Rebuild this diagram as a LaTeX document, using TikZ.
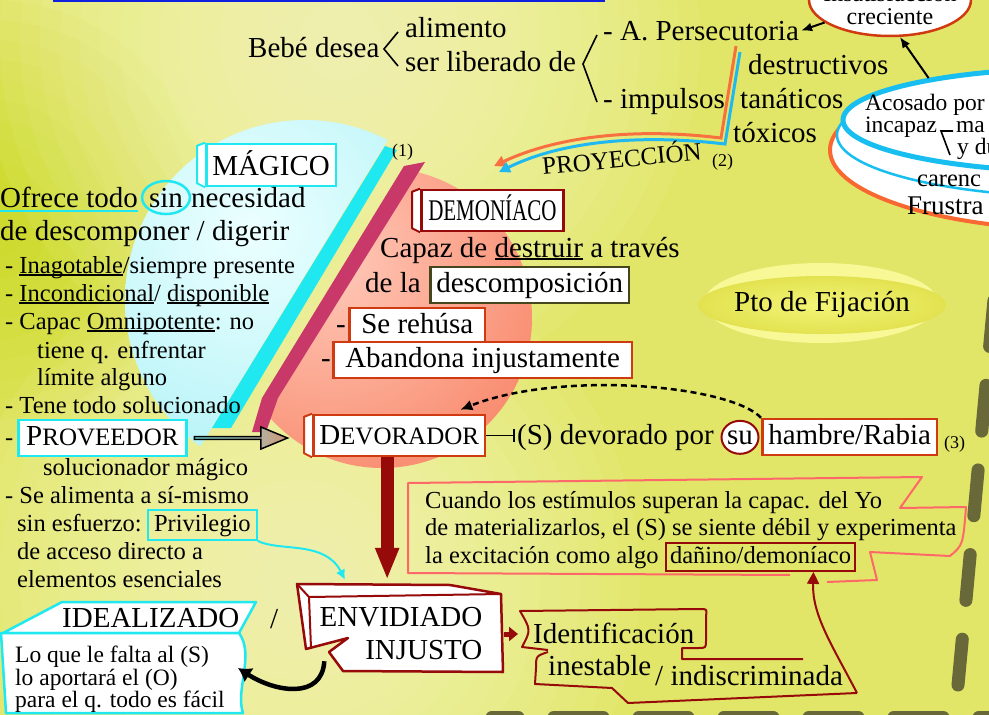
\documentclass[tikz,border=0pt]{standalone}
\usepackage{fontspec}
\setmainfont{Liberation Serif}
\usetikzlibrary{arrows.meta,positioning,shapes.geometric,shapes.arrows}

\definecolor{bgbase}{RGB}{226,230,104}
\definecolor{cream}{RGB}{252,252,208}
\definecolor{lime}{RGB}{198,216,16}
\definecolor{cyanln}{RGB}{32,232,240}
\definecolor{cyanin}{RGB}{236,255,255}
\definecolor{cyanout}{RGB}{184,244,248}
\definecolor{salin}{RGB}{255,202,186}
\definecolor{salout}{RGB}{248,132,102}
\definecolor{crimson}{RGB}{200,56,104}
\definecolor{boxred}{RGB}{208,58,16}
\definecolor{dred}{RGB}{150,10,10}
\definecolor{pinkln}{RGB}{255,104,104}
\definecolor{olive}{RGB}{70,70,30}
\definecolor{ellblue}{RGB}{24,190,240}
\definecolor{ellorange}{RGB}{248,104,48}
\definecolor{projor}{RGB}{248,112,64}
\definecolor{projbl}{RGB}{32,184,240}
\definecolor{ptoring}{RGB}{248,248,150}
\definecolor{ptoin}{RGB}{244,244,120}
\definecolor{ptoout}{RGB}{226,226,80}
\definecolor{dashcol}{RGB}{104,104,56}
\definecolor{topblue}{RGB}{16,32,224}
\definecolor{arrtan}{RGB}{208,150,120}

\newcommand\fsz[2]{\fontsize{#1}{#2}\selectfont}
\newcommand\undl[1]{\mbox{\setbox0\hbox{#1}\rlap{\rule[-2.5pt]{\wd0}{1.1pt}}\box0}}

\begin{document}
\begin{tikzpicture}[x=1pt, y=-1pt,
  txt/.style={inner sep=0pt, anchor=base west, font=\fsz{29}{33}},
  lst/.style={inner sep=0pt, anchor=base west, font=\fsz{24.5}{28}},
  tight/.style={inner sep=0pt, anchor=base west, font=\fsz{23.5}{23}},
  sml/.style={inner sep=0pt, anchor=base west, font=\fsz{18}{18}},
  box/.style={line width=2.5pt, fill=white, anchor=base west, inner xsep=6pt, inner ysep=4pt,
    text height=21pt, text depth=7pt, font=\fsz{29}{33}},
  cbox/.style={box, draw=cyanln},
  obox/.style={box, draw=boxred},
  dbox/.style={box, draw=dred},
  panel/.style={append after command={\pgfextra{\draw[#1, line width=2pt, fill=white, line join=round]
    (\tikzlastnode.north west) -- ++(-8pt,-3pt) -- ([shift={(-8pt,4pt)}]\tikzlastnode.south west)
    -- (\tikzlastnode.south west);}}},
  blk/.style={line width=2pt, -{Latex[length=11pt,width=9pt]}},
  bigred/.style={dred, line width=13pt, -{Triangle[length=32pt,width=22pt]}, shorten >=11pt},
  border/.style={dashcol, line width=13pt, line cap=round}
]
\useasboundingbox (0,0) rectangle (989,715);

% background
\fill[bgbase] (0,0) rectangle (989,715);
\foreach \r in {40,60,...,220} \fill[lime, opacity=0.09] (-10,220) circle (\r);
\foreach \r in {40,60,...,360} \fill[cream, opacity=0.07] (340,40) circle (\r);
\foreach \r in {40,60,...,340} \fill[cream, opacity=0.07] (300,580) circle (\r);
\draw[topblue, line width=3pt] (53,0.5) -- (605,0.5);

% magic and demonic halves
\begin{scope}
  \clip (305,300) circle (180);
  \clip (0,100) -- (412,100) -- (180,480) -- (0,480) -- cycle;
  \shade[inner color=cyanin, outer color=cyanout] (250,230) circle (230);
\end{scope}
\fill[cyanln] (385,146) -- (397,150) -- (231,428) -- (212,428) -- cycle;
\begin{scope}
  \clip (382,318) circle (150);
  \clip (463,100) -- (700,100) -- (700,500) -- (227,480) -- cycle;
  \shade[inner color=salin, outer color=salout] (330,260) circle (260);
\end{scope}
\fill[crimson] (404,166) -- (425,162) -- (278,398) -- (266,432) -- (252,432) -- (262,398) -- cycle;

% dashed frame
\draw[border, dash pattern=on 49pt off 36pt, dash phase=23pt] (492,717) -- (1060,717);
\draw[border, dash pattern=on 46pt off 39pt] (958,685) -- (1008,150);

% top
\node[txt] (bebe) at (248,57) {Bebé desea};
\draw[line width=1.6pt] (398,32) -- (384,49) -- (398,66);
\node[txt] (alim) at (405,37) {alimento};
\node[txt] (liber) at (405,71) {ser liberado de};
\draw[line width=1.6pt] (597,35) -- (583,64) -- (597,102);
\node[txt] (perse) at (603,40) {- A. Persecutoria};
\node[txt] (impul) at (603,108) {- impulsos};
\node[txt] (destr) at (748,74) {destructivos};
\node[txt] (tanat) at (740,108) {tanáticos};
\node[txt] (toxic) at (733,142) {tóxicos};

\coordinate (pjA) at (736,46);
\coordinate (pjB) at (740,52);
\coordinate (pjtipA) at (494,166);
\coordinate (pjtipB) at (499,172);
\draw[projor, line width=3pt, -{Triangle[length=11pt,width=11pt]}]
  (pjA) -- (721,138) .. controls (640,128) and (560,135) .. (pjtipA);
\draw[projbl, line width=3pt, -{Triangle[length=11pt,width=11pt]}]
  (pjB) -- (725,144) .. controls (640,134) and (562,141) .. (pjtipB);
\node[inner sep=0pt, anchor=base west, font=\fsz{25}{25}, rotate=5.5] (proy) at (543,175) {PROYECCIÓN};
\node[sml] (n2) at (712,166) {(2)};

% top right ellipses
\node[ellipse, draw=boxred, line width=2.5pt, fill=white, minimum width=162pt, minimum height=72pt] (insat) at (890,0) {};
\node[font=\fsz{24}{23}, align=center, inner sep=0pt] (insattxt) at (890,5) {Insatisfacción\\creciente};
\draw[ellorange, line width=4pt, fill=white] (1085,150) ellipse (255 and 80);
\draw[ellblue, line width=2.5pt, fill=white] (1085,135) ellipse (248 and 62);
\node[ellipse, draw=ellblue, line width=5pt, fill=white, minimum width=484pt, minimum height=104pt] (acos) at (1085,120) {};
\node[tight] (acos1) at (865,110) {Acosado por};
\node[tight] (acos2) at (865,132) {incapaz};
\draw[line width=1.6pt] (953,131) -- (941,131) -- (950,155);
\node[tight] (acos3) at (956,132) {ma};
\node[tight] (acos4) at (957,154) {y du};
\node[lst] (acos5) at (917,186) {carenc};
\node[inner sep=0pt, anchor=base west, font=\fsz{27}{27}] (acos6) at (907,214) {Frustra};
\draw[blk] (insat) -- ([xshift=2pt]perse.east);
\draw[blk] (acos.165) -- (insat.-75);

% left column
\node[cbox, panel=cyanln, text height=27pt] (magico) at (205,175) {MÁGICO};
\node[sml] (n1) at (392,156) {(1)};
\node[txt] (ofrece) at (0,207) {Ofrece todo};
\draw[cyanln, line width=2.5pt] ([yshift=-4pt]ofrece.base west) -- ([yshift=-4pt]ofrece.base east);
\node[ellipse, draw=cyanln, line width=2.5pt, inner sep=0pt, minimum width=46pt, minimum height=33pt,
  anchor=base, font=\fsz{29}{33}] (sin) at (166,207) {sin};
\node[txt] (neces) at (191,207) {necesidad};
\node[txt] (digerir) at (0,240) {de descomponer / digerir};

\node[lst] (l1) at (5,273) {- \undl{Inagotable}/siempre presente};
\node[lst] (l2) at (5,301) {- \undl{Incondicional}/ \undl{disponible}};
\node[lst] (l3) at (5,329) {- Capac \undl{Omnipotente}: no};
\node[lst] (l4) at (37,358) {tiene q. enfrentar};
\node[lst] (l5) at (37,385) {límite alguno};
\node[lst] (l6) at (5,413) {- Tene todo solucionado};
\node[lst] (l7) at (5,445) {-};
\node[cbox, font=\fsz{25}{29}, inner xsep=8pt] (prov) at (17,445) {{\fsz{29}{29}P}ROVEEDOR};
\node[lst] (l8) at (43,475) {solucionador mágico};
\node[lst] (l9) at (5,503) {- Se alimenta a sí-mismo};
\node[lst] (l10) at (17,531) {sin esfuerzo:};
\node[box, draw=cyanln, fill=none, line width=2pt, font=\fsz{24.5}{28}, text height=17.6pt,
  text depth=5.9pt, inner ysep=3pt] (priv) at (147,531) {Privilegio};
\node[lst] (l11) at (17,559) {de acceso directo a};
\node[lst] (l12) at (17,587) {elementos esenciales};

% demonic side
\node[dbox, panel=dred, text height=26pt, inner xsep=7pt] (demon) at (420,220) {\scalebox{0.7}[1]{\fsz{30}{30}DEMONÍACO}};
\node[txt] (capaz) at (380,257) {Capaz de \undl{destruir} a través};
\node[txt] (dela) at (365,292) {de la};
\node[box, draw=olive] (descomp) at (429,292) {descomposición};
\node[txt] (dsh1) at (336,333) {-};
\node[obox, inner xsep=12pt] (rehusa) at (348,333) {Se rehúsa};
\node[txt] (dsh2) at (321,367) {-};
\node[obox, inner xsep=12pt] (aband) at (332,367) {Abandona injustamente};

\node[ellipse, fill=ptoring, minimum width=234pt, minimum height=80pt] (ptoglow) at (821,303) {};
\node[ellipse, inner color=ptoin, outer color=ptoout, minimum width=212pt, minimum height=58pt,
  inner sep=0pt, font=\fsz{29}{33}] (pto) at (822,305) {Pto de Fijación};

\node[single arrow, draw=black, line width=1.5pt, left color=cyanln!60, right color=arrtan,
  minimum height=93pt, minimum width=22pt, single arrow head extend=5.5pt,
  single arrow tip angle=45, inner sep=0pt, right=6pt of prov] (parr) {};
\node[obox, panel=boxred, font=\fsz{25}{29}, text height=24pt, inner ysep=5pt] (devor) at (312,444) {{\fsz{29}{29}D}EVORADOR};
\node[txt] (devpor) at (517,444) {(S) devorado por};
\node[ellipse, draw=dred, line width=2pt, fill=white, inner sep=0pt, minimum width=37pt, minimum height=33pt,
  anchor=base, font=\fsz{29}{33}] (su) at (740,444) {su};
\node[obox] (hambre) at (761,444) {hambre/Rabia};
\node[sml] (n3) at (944,448) {(3)};
\draw[line width=1.8pt, -{Bar[width=13pt,line width=2.2pt]}] (devor.east) -- ([xshift=-2pt]devor.east -| devpor.west);
\draw[line width=2.5pt, dash pattern=on 6pt off 4pt, -{Latex[length=12pt,width=11pt]}]
  (hambre.north west) .. controls (730,385) and (560,370) .. ([shift={(-26pt,4pt)}]devor.north east);

% banner
\draw[pinkln, line width=2pt, line join=round] (790,575) -- (408,573) -- (408,483) -- (922,477) -- (900,508)
  -- (966,507) .. controls (963,545) .. (950,556) -- (870,552) -- (877,580) -- (827,582);
\node[lst] (cu1) at (425,508) {Cuando los estímulos superan la capac. del Yo};
\node[lst] (cu2) at (425,535) {de materializarlos, el (S) se siente débil y experimenta};
\node[lst] (cu3) at (425,563) {la excitación como algo};
\node[box, draw=dred, fill=none, line width=2pt, font=\fsz{24.5}{28}, text height=17.6pt,
  text depth=5.9pt, inner ysep=2pt, inner xsep=4pt] (danino) at (665,563) {dañino/demoníaco};

% envidiado / idealizado
\draw[dred, line width=2.5pt, fill=white, line join=round] (297,584) -- (450,585) -- (501,594) -- (503,672)
  -- (343,671) -- (329,652) -- (348,638) -- (306,649) -- cycle;
\draw[dred, line width=2pt] (297,584) -- (309,597) -- (501,594) (309,597) -- (311,648);
\node[font=\fsz{29}{33}, align=right, inner sep=0pt, minimum width=205pt, minimum height=86pt] (envid) at (401,634) {ENVIDIADO\\INJUSTO};
\node[txt] (slash) at (270,628) {/};

\draw[cyanln, line width=2.5pt, fill=white, line join=round] (3,633) -- (62,602) -- (256,602) -- (239,633) -- cycle;
\draw[cyanln, line width=2.5pt, fill=white, line join=round] (1,633) -- (239,633)
  .. controls (255,655) and (235,690) .. (243,713) -- (6,713) -- cycle;
\node[txt] (ideal) at (62,627) {IDEALIZADO};
\node[tight] (id1) at (15,662) {Lo que le falta al (S)};
\node[tight] (id2) at (15,685) {lo aportará el (O)};
\node[tight] (id3) at (15,707) {para el q. todo es fácil};
\coordinate (idealR) at (238,668);

% identificacion
\draw[dred, line width=2pt, line join=round] (548,650) -- (522,647) .. controls (531,630) .. (520,611)
  -- (700,609) .. controls (707,609) .. (706,616) -- (706,640) .. controls (706,648) .. (698,648)
  -- (682,648) -- (682,659) -- (803,659);
\coordinate (idtail) at (857,693);
\draw[dred, line width=2pt, line join=round] (548,652) .. controls (536,656) .. (536,668) -- (535,684)
  -- (612,688) -- (628,703) -- (idtail);
\node[txt] (ident) at (533,643) {Identificación};
\node[txt] (inest) at (548,675) {inestable};
\node[txt] (indis) at (655,685) {/ indiscriminada};

% connectors
\draw[bigred] ([xshift=-12pt]devor.south) -- ([xshift=-12pt]devor.south |- envid.north);
\draw[cyanln, line width=2pt, -{Latex[length=10pt,width=10pt]}]
  (priv.south east) .. controls (280,552) and (325,540) .. ([shift={(-56pt,11pt)}]envid.north);
\draw[dred, line width=5pt, -{Triangle[length=9pt,width=14pt]}] (envid.east) -- ([xshift=-15pt]ident.west |- envid.east);
\draw[line width=4.5pt, -{Latex[length=13pt,width=17pt]}]
  ([shift={(26pt,16pt)}]envid.south west) .. controls (322,700) and (275,692) .. (idealR);
\draw[dred, line width=2pt, -{Triangle[length=12pt,width=12pt]}]
  (idtail) .. controls (832,645) and (812,615) .. ([xshift=53pt]danino.south);
\end{tikzpicture}
\end{document}
